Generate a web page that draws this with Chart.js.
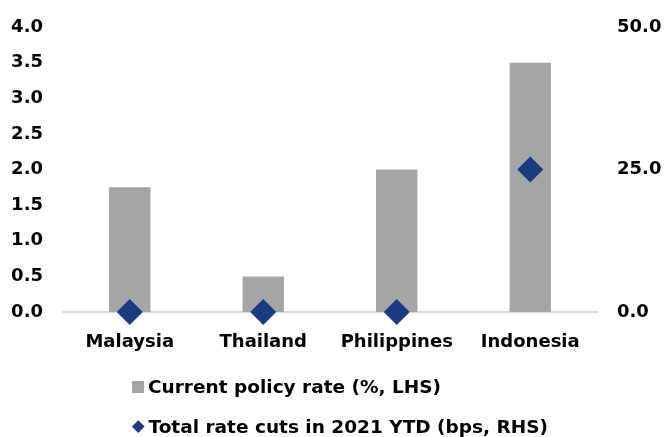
<!DOCTYPE html>
<html>
  <head>
    <title>Policy rates</title>
    <script src="https://cdn.jsdelivr.net/npm/chart.js"></script>
    <style>
      body {
        margin: 0;
        background: #fff;
        font-family: "DejaVu Sans", sans-serif;
        font-weight: bold;
      }
      #wrap {
        position: relative;
        width: 667px;
        height: 437px;
      }
      canvas {
        position: absolute;
        left: 0;
        top: 0;
      }
      .legend-row {
        position: absolute;
        left: 132px;
        font-size: 18.5px;
        color: #000;
        white-space: nowrap;
        line-height: 22px;
      }
      .swatch {
        display: inline-block;
        width: 12px;
        height: 12px;
        background: #a5a5a5;
        margin-right: 4px;
        vertical-align: 0px;
      }
      .diamond {
        display: inline-block;
        width: 8.5px;
        height: 8.5px;
        background: #1b3a82;
        transform: rotate(45deg);
        margin: 0 6px 0 2px;
        vertical-align: 3px;
      }
    </style>
  </head>
  <body>
    <div id="wrap">
      <canvas id="ratesChart" width="667" height="437"></canvas>
      <div class="legend-row" style="top: 376px">
        <span class="swatch"></span>Current policy rate (%, LHS)
      </div>
      <div class="legend-row" style="top: 416px">
        <span class="diamond"></span>Total rate cuts in 2021 YTD (bps, RHS)
      </div>
    </div>

    <script>
      const countries = ["Malaysia", "Thailand", "Philippines", "Indonesia"];
      const policyRate = [1.75, 0.5, 2.0, 3.5];
      const rateCuts = [0, 0, 0, 25];

      const tickFont = { family: "DejaVu Sans", size: 18, weight: "bold" };

      const ctx = document.getElementById("ratesChart").getContext("2d");
      new Chart(ctx, {
        type: "bar",
        data: {
          labels: countries,
          datasets: [
            {
              type: "line",
              label: "Total rate cuts in 2021 YTD (bps, RHS)",
              data: rateCuts,
              yAxisID: "y1",
              showLine: false,
              pointStyle: "rectRot",
              pointRadius: 13,
              pointHoverRadius: 13,
              pointBackgroundColor: "#1b3a82",
              pointBorderWidth: 0,
              borderColor: "#1b3a82",
              clip: false,
              order: 0,
            },
            {
              label: "Current policy rate (%, LHS)",
              data: policyRate,
              yAxisID: "y",
              backgroundColor: "#a5a5a5",
              categoryPercentage: 1,
              barPercentage: 0.31,
              order: 1,
            },
          ],
        },
        options: {
          responsive: false,
          animation: false,
          layout: { padding: { top: 27, left: 0, right: 0, bottom: 0 } },
          plugins: {
            legend: { display: false },
            tooltip: { enabled: false },
          },
          scales: {
            x: {
              grid: { display: false },
              border: { display: true, color: "#d9d9d9", width: 2 },
              ticks: { color: "#000", font: tickFont, padding: 12 },
              afterFit: (scale) => {
                scale.height = 125;
              },
            },
            y: {
              position: "left",
              min: 0,
              max: 4,
              grid: { display: false },
              border: { display: false },
              ticks: {
                stepSize: 0.5,
                color: "#000",
                font: tickFont,
                padding: 12,
                callback: (v) => v.toFixed(1),
              },
              afterFit: (scale) => {
                scale.width = 63;
              },
            },
            y1: {
              position: "right",
              min: 0,
              max: 50,
              grid: { display: false },
              border: { display: false },
              ticks: {
                stepSize: 25,
                color: "#000",
                font: tickFont,
                padding: 12,
                callback: (v) => v.toFixed(1),
              },
              afterFit: (scale) => {
                scale.width = 70;
              },
            },
          },
        },
      });
    </script>
  </body>
</html>
